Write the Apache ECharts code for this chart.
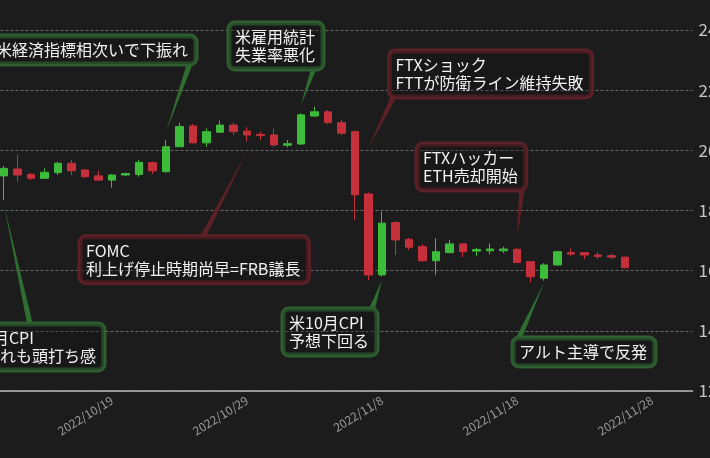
<!DOCTYPE html>
<html><head><meta charset="utf-8">
<script src="https://cdn.jsdelivr.net/npm/echarts@6/dist/echarts.min.js"></script>
<style>html,body{margin:0;padding:0;background:#1c1c1c;}#c{width:710px;height:458px;}</style>
</head><body><div id="c"></div>
<script>
// categories (daily)
const dates = ['2022/10/10','2022/10/11','2022/10/12','2022/10/13','2022/10/14','2022/10/15','2022/10/16','2022/10/17','2022/10/18','2022/10/19',
'2022/10/20','2022/10/21','2022/10/22','2022/10/23','2022/10/24','2022/10/25','2022/10/26','2022/10/27','2022/10/28','2022/10/29',
'2022/10/30','2022/10/31','2022/11/1','2022/11/2','2022/11/3','2022/11/4','2022/11/5','2022/11/6','2022/11/7','2022/11/8',
'2022/11/9','2022/11/10','2022/11/11','2022/11/12','2022/11/13','2022/11/14','2022/11/15','2022/11/16','2022/11/17','2022/11/18',
'2022/11/19','2022/11/20','2022/11/21','2022/11/22','2022/11/23','2022/11/24','2022/11/25','2022/11/26','2022/11/27','2022/11/28',
'2022/11/29','2022/11/30','2022/12/1'];
// candle dates (10/11 - 11/26)
const candleDates = dates.slice(1, 48);
const openV  = [19150,19380,19200,19070,19260,19570,19350,19150,19010,19180,19200,19590,19290,20120,20810,20250,20600,20840,20640,20530,20510,20170,20210,21140,21280,20920,20620,18550,15860,17600,17040,16800,16330,16600,16890,16650,16660,16660,16710,16300,15750,16190,16600,16600,16520,16500,16450];
const closeV = [19400,19180,19070,19270,19570,19320,19120,19010,19180,19230,19600,19320,20120,20790,20250,20620,20840,20620,20510,20490,20180,20220,21180,21280,20920,20570,18520,15860,17580,17020,16780,16330,16630,16890,16630,16700,16720,16720,16270,15800,16190,16630,16550,16520,16470,16450,16100];
const lowV   = [18350,18960,19010,19050,19180,19180,19100,18990,18760,19150,19120,19210,19260,20110,20230,20120,20580,20510,20290,20340,20120,20100,20180,21110,20880,20510,17680,15690,15800,16520,16690,16300,15860,16580,16450,16490,16540,16580,16250,15600,15670,16160,16490,16380,16380,16380,16070];
const highV  = [19480,19850,19250,19400,19620,19680,19360,19320,19210,19260,19680,19630,20340,20920,20880,20730,20990,20920,20770,20620,20730,20340,21230,21450,21340,21010,20650,18600,17960,17650,17090,16890,17080,17020,16920,16760,16910,16800,16740,16300,16250,16660,16740,16620,16630,16580,16470];
// y axis ticks
const yTicks = [12000,14000,16000,18000,20000,22000,24000];

// annotations: anchor date/value (data), text
const noteDates  = ['2022/10/23','2022/11/2','2022/11/7','2022/11/18','2022/10/29','2022/10/11','2022/11/8','2022/11/20'];
const noteValues = [20610,21510,20080,17090,19950,18180,15690,15590];
const noteTexts  = ['米経済指標相次いで下振れ','米雇用統計\n失業率悪化','FTXショック\nFTTが防衛ライン維持失敗','FTXハッカー\nETH売却開始','FOMC\n利上げ停止時期尚早=FRB議長','米9月CPI\n上振れも頭打ち感','米10月CPI\n予想下回る','アルト主導で反発'];
// layout (pixels relative to anchor): box top-left, pointer base, tone
const noteLayout = [
  {dx:-176, dy:-96, bx:24,  by:-69, tone:'g'},
  {dx:-72,  dy:-82, bx:13,  by:-37, tone:'g'},
  {dx:21,   dy:-97, bx:25,  by:-51, tone:'r'},
  {dx:-100, dy:-94, bx:5,   by:-49, tone:'r'},
  {dx:-167, dy:85,  bx:-44, by:85,  tone:'r'},
  {dx:-42,  dy:119, bx:26,  by:119, tone:'g'},
  {dx:-99,  dy:29,  bx:-10, by:29,  tone:'g'},
  {dx:-31,  dy:55,  bx:-25, by:55,  tone:'g'}
];

const candleData = [['2022/10/10','-','-','-','-']].concat(candleDates.map((d,i)=>[d, openV[i], closeV[i], lowV[i], highV[i]]));
const noteData = noteDates.map((d,i)=>[d, noteValues[i], i]);

const tones = {
  g: {border:'#2f5f30', pointer:'#2f6e30'},
  r: {border:'#5c2128', pointer:'#5e2027'}
};
const FONT = '"Noto Sans CJK JP", "Noto Sans", sans-serif';

const chart = echarts.init(document.getElementById('c'));
chart.setOption({
  backgroundColor:'#1c1c1c',
  animation:false,
  grid:{left:-9.5, right:17.5, top:30, bottom:67, containLabel:false, outerBoundsMode:'none'},
  xAxis:{
    type:'category', data:dates, boundaryGap:false,
    axisLine:{show:true, lineStyle:{color:'#b5b5b5', width:1.5}},
    axisTick:{show:false},
    splitLine:{show:false},
    axisLabel:{rotate:32, color:'#9a9a9a', fontSize:12, fontFamily:FONT, margin:8,
      interval:(idx)=> idx % 10 === 9}
  },
  yAxis:{
    type:'value', position:'right', min:yTicks[0], max:yTicks[yTicks.length-1], interval:2000,
    axisLine:{show:false}, axisTick:{show:false},
    splitLine:{show:true, lineStyle:{color:'#6a6a6a', type:[3,2], width:1}},
    axisLabel:{color:'#c4c4c4', fontSize:17, fontFamily:FONT, margin:6}
  },
  series:[
    {
      type:'candlestick', data:candleData.map(r=>r.slice(1)), barWidth:8, clip:false,
      itemStyle:{color:'#3dbb3a', color0:'#c6303b', borderColor:'#3dbb3a', borderColor0:'#c6303b', borderWidth:1}
    },
    {
      type:'custom', data:noteData, clip:false, z:5,
      encode:{x:0, y:1},
      renderItem:(params, api)=>{
        const i = api.value(2);
        const L = noteLayout[i];
        const a = api.coord([api.value(0), api.value(1)]);
        const t = tones[L.tone];
        const bx = a[0]+L.bx, by = a[1]+L.by;
        const vx = a[0]-bx, vy = a[1]-by;
        const len = Math.sqrt(vx*vx+vy*vy) || 1;
        const px = -vy/len*2.8, py = vx/len*2.8;
        return {
          type:'group',
          children:[
            {type:'polygon', shape:{points:[[bx+px,by+py],[bx-px,by-py],[a[0],a[1]]]}, style:{fill:t.pointer}},
            {type:'text', x:a[0]+L.dx, y:a[1]+L.dy, style:{
              text:noteTexts[i], fill:'#f2f2f2', fontSize:16, fontFamily:FONT, lineHeight:18,
              align:'left', verticalAlign:'top',
              backgroundColor:'rgba(10,10,10,0.25)', borderColor:t.border, borderWidth:2.5, borderRadius:6,
              padding:[5,8,5,6]
            }}
          ]
        };
      }
    }
  ]
});
</script></body></html>
